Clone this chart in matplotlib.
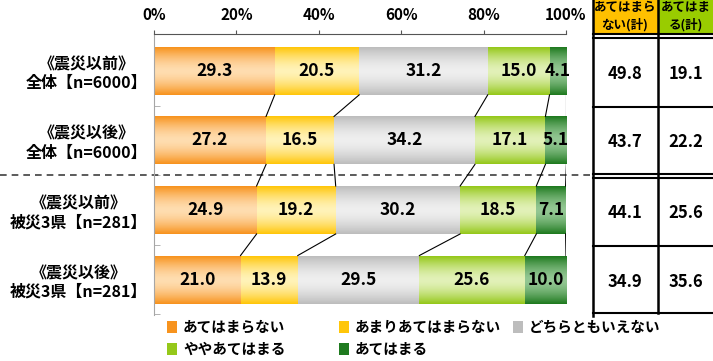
import numpy as np
import matplotlib
matplotlib.use("Agg")
import matplotlib.pyplot as plt
from matplotlib.colors import LinearSegmentedColormap
from matplotlib.patches import Rectangle

plt.rcParams['font.family'] = ['Noto Sans CJK JP', 'DejaVu Sans']

# Datos
categorias = ["《震災以前》\n全体【n=6000】", "《震災以後》\n全体【n=6000】",
              "《震災以前》\n被災3県【n=281】", "《震災以後》\n被災3県【n=281】"]
series = ["あてはまらない", "あまりあてはまらない", "どちらともいえない",
          "ややあてはまる", "あてはまる"]
no_aplica = [29.3, 27.2, 24.9, 21.0]
poco = [20.5, 16.5, 19.2, 13.9]
neutral = [31.2, 34.2, 30.2, 29.5]
algo = [15.0, 17.1, 18.5, 25.6]
aplica = [4.1, 5.1, 7.1, 10.0]
total_no = [49.8, 43.7, 44.1, 34.9]
total_si = [19.1, 22.2, 25.6, 35.6]
cabeceras = ["あてはまら\nない(計)", "あてはま\nる(計)"]

valores = [no_aplica, poco, neutral, algo, aplica]
# (borde, centro) para el degradado vertical de cada serie
colores = [("#F7931E", "#FFDDB0"), ("#FFC60A", "#FFF3B8"), ("#BDBDBD", "#EFEFEF"),
           ("#95C81A", "#E2F1B8"), ("#1F7A1F", "#93C793")]

fig = plt.figure(figsize=(7.13, 3.61), dpi=100)
ax = fig.add_axes([154 / 713, 46 / 361, 412 / 713, 281 / 361])

y = np.arange(len(categorias))
alto = 0.69
izq = np.zeros(len(categorias))
grad = np.abs(np.linspace(-1, 1, 64)) ** 1.6
grad = grad[:, None]
for vals, (borde, centro) in zip(valores, colores):
    cmap = LinearSegmentedColormap.from_list("g", [centro, borde])
    barras = ax.barh(y, vals, left=izq, height=alto, color=borde, edgecolor="none")
    for p in barras:
        x0, y0 = p.get_x(), p.get_y()
        im = ax.imshow(grad, cmap=cmap, aspect="auto", zorder=2,
                       extent=[x0, x0 + p.get_width(), y0 + p.get_height(), y0])
        im.set_clip_path(p)
    for yi, l, v in zip(y, izq, vals):
        ax.text(l + v / 2, yi, f"{v:.1f}", ha="center", va="center",
                fontsize=12.5, fontweight="bold", zorder=4)
    izq = izq + np.array(vals)

# Líneas que conectan los límites acumulados entre barras consecutivas
acum = np.cumsum(np.array(valores), axis=0)
for i in range(len(categorias) - 1):
    for k in range(acum.shape[0]):
        ax.plot([acum[k, i], acum[k, i + 1]], [i + alto / 2, i + 1 - alto / 2],
                color="black", lw=0.8, zorder=3)

ax.set_xlim(0, 100)
ax.set_ylim(3.51, -0.53)
ax.xaxis.tick_top()
ax.set_xticks(range(0, 101, 20))
ax.set_xticklabels([f"{t}%" for t in range(0, 101, 20)], fontsize=11, fontweight="bold")
ax.tick_params(axis="x", length=3, pad=5, color="#555555")
ax.set_yticks(y)
ax.set_yticklabels(categorias, fontsize=11.5, fontweight="bold", ha="right",
                   multialignment="center")
ax.tick_params(axis="y", which="major", length=0, pad=5)
ax.set_yticks([0.5, 1.5, 2.5, 3.5], minor=True)
ax.tick_params(axis="y", which="minor", direction="in", length=4, color="#A6A6A6")
for s in ["right", "bottom"]:
    ax.spines[s].set_visible(False)
ax.spines["left"].set_color("#A6A6A6")
ax.spines["top"].set_color("#555555")

# Línea discontinua que separa totales y prefecturas afectadas
ax.plot([-154 / 412, (593 - 154) / 412], [1.5, 1.5], transform=ax.get_yaxis_transform(),
        ls=(0, (4, 3)), color="#404040", lw=1.2, clip_on=False)

# Capa en píxeles para la tabla y la leyenda
ov = fig.add_axes([0, 0, 1, 1])
ov.set_xlim(0, 713)
ov.set_ylim(361, 0)
ov.axis("off")

ov.add_patch(Rectangle((593, -2), 65, 36, fc="#FFC000", ec="none"))
ov.add_patch(Rectangle((658, -2), 57, 36, fc="#99CC00", ec="none"))
for xc, txt in zip([625, 686], cabeceras):
    ov.text(xc, 16, txt, ha="center", va="center", fontsize=9, fontweight="bold",
            linespacing=1.35)
for yl in [34, 38, 107, 174, 178, 246, 313]:
    ov.plot([593, 714], [yl, yl], color="black", lw=1.5)
ov.plot([593, 593], [-2, 316], color="black", lw=1.8)
ov.plot([658, 658], [-2, 313], color="black", lw=1.8)
for yc, a, b in zip([74, 142, 213, 282], total_no, total_si):
    ov.text(625, yc, f"{a:.1f}", ha="center", va="center", fontsize=12, fontweight="bold")
    ov.text(686, yc, f"{b:.1f}", ha="center", va="center", fontsize=12, fontweight="bold")

pos_ley = [(167, 327), (339, 327), (513, 327), (167, 349), (339, 349)]
for (lx, ly), nombre, (borde, centro) in zip(pos_ley, series, colores):
    ov.add_patch(Rectangle((lx, ly - 6), 10, 12, fc=borde, ec="none"))
    ov.text(lx + 16, ly, nombre, ha="left", va="center", fontsize=10.5, fontweight="bold")

plt.savefig("out.png", dpi=100)
